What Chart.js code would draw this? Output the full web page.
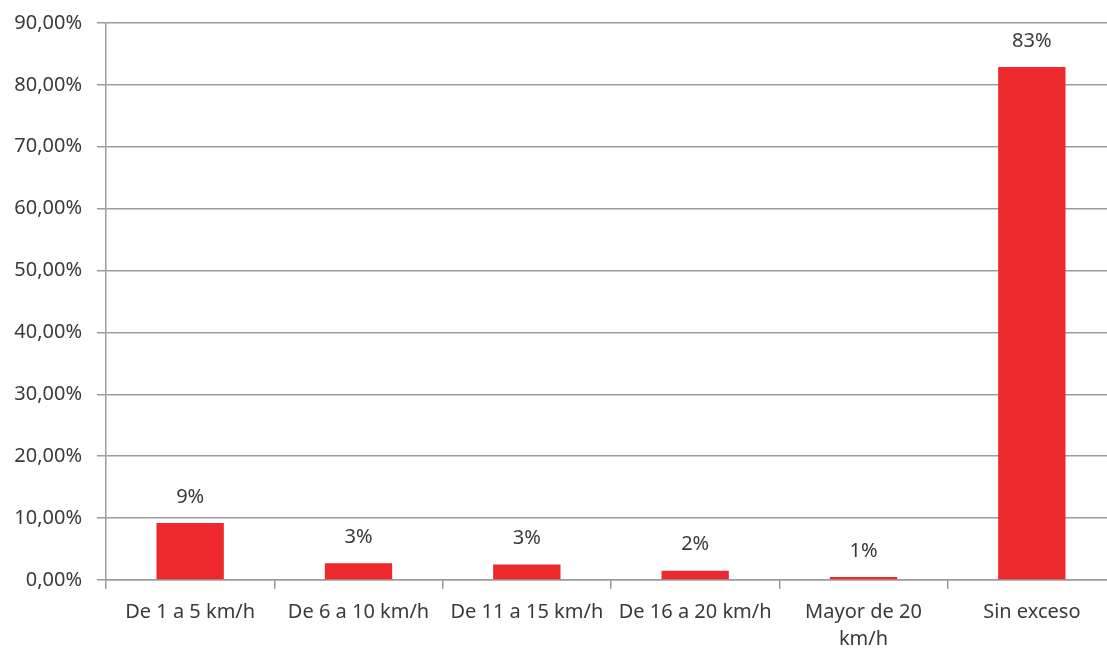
<!DOCTYPE html>
<html>
<head>
<meta charset="utf-8">
<script src="https://cdn.jsdelivr.net/npm/chart.js@4/dist/chart.umd.min.js"></script>
<style>
  html, body { margin: 0; padding: 0; overflow: hidden; background: #fff; }
  #wrap { width: 1117px; height: 650px; }
</style>
</head>
<body>
<div id="wrap"><canvas id="chart"></canvas></div>
<script>
const categories = [
  'De 1 a 5 km/h',
  'De 6 a 10 km/h',
  'De 11 a 15 km/h',
  'De 16 a 20 km/h',
  ['Mayor de 20', 'km/h'],
  'Sin exceso',
];

// percent of vehicles in each speed band
const shares = [9.2, 2.7, 2.5, 1.5, 0.5, 82.9];

const yTicks = [0, 10, 20, 30, 40, 50, 60, 70, 80, 90];

const textColor = '#3a3a3a';
const gridColor = '#9c9c9c';

// draws the "9%" style labels over each bar
const barLabels = {
  id: 'barLabels',
  afterDatasetsDraw(chart) {
    const ctx = chart.ctx;
    const meta = chart.getDatasetMeta(0);
    ctx.save();
    ctx.font = '20px "Noto Sans"';
    ctx.fillStyle = textColor;
    ctx.textAlign = 'center';
    ctx.textBaseline = 'middle';
    meta.data.forEach((bar, i) => {
      ctx.fillText(Math.round(shares[i]) + '%', bar.x, bar.y - 26);
    });
    ctx.restore();
  }
};

const data = {
  labels: categories,
  datasets: [{
    data: shares,
    backgroundColor: 'rgb(237, 41, 45)',
    barPercentage: 0.4,
    categoryPercentage: 1,
  }]
};

const config = {
  type: 'bar',
  data: data,
  options: {
    responsive: true,
    maintainAspectRatio: false,
    animation: false,
    layout: { padding: { top: 23, right: 1, left: 0, bottom: 0 } },
    plugins: {
      legend: { display: false },
      tooltip: { enabled: false },
    },
    scales: {
      x: {
        grid: {
          offset: true,
          drawOnChartArea: false,
          color: gridColor,
          lineWidth: 1.5,
          tickLength: 9,
        },
        border: { color: gridColor, width: 1.5 },
        ticks: {
          color: textColor,
          font: { family: 'Noto Sans', size: 20, lineHeight: 1.38 },
          padding: 9,
          maxRotation: 0,
          autoSkip: false,
        },
        afterFit(scale) { scale.height = 70; },
      },
      y: {
        min: 0,
        max: 90,
        afterBuildTicks(scale) {
          scale.ticks = yTicks.map(v => ({ value: v }));
        },
        grid: { color: gridColor, lineWidth: 1.5, tickLength: 9 },
        border: { color: gridColor, width: 1.5 },
        ticks: {
          color: textColor,
          font: { family: 'Noto Sans', size: 20 },
          padding: 15,
          callback: v => v.toFixed(2).replace('.', ',') + '%',
        },
        afterFit(scale) {
          scale.width = 106;
          scale.paddingTop = 0;
          scale.paddingBottom = 0;
        },
      }
    }
  },
  plugins: [barLabels]
};

new Chart(document.getElementById('chart'), config);
</script>
</body>
</html>
